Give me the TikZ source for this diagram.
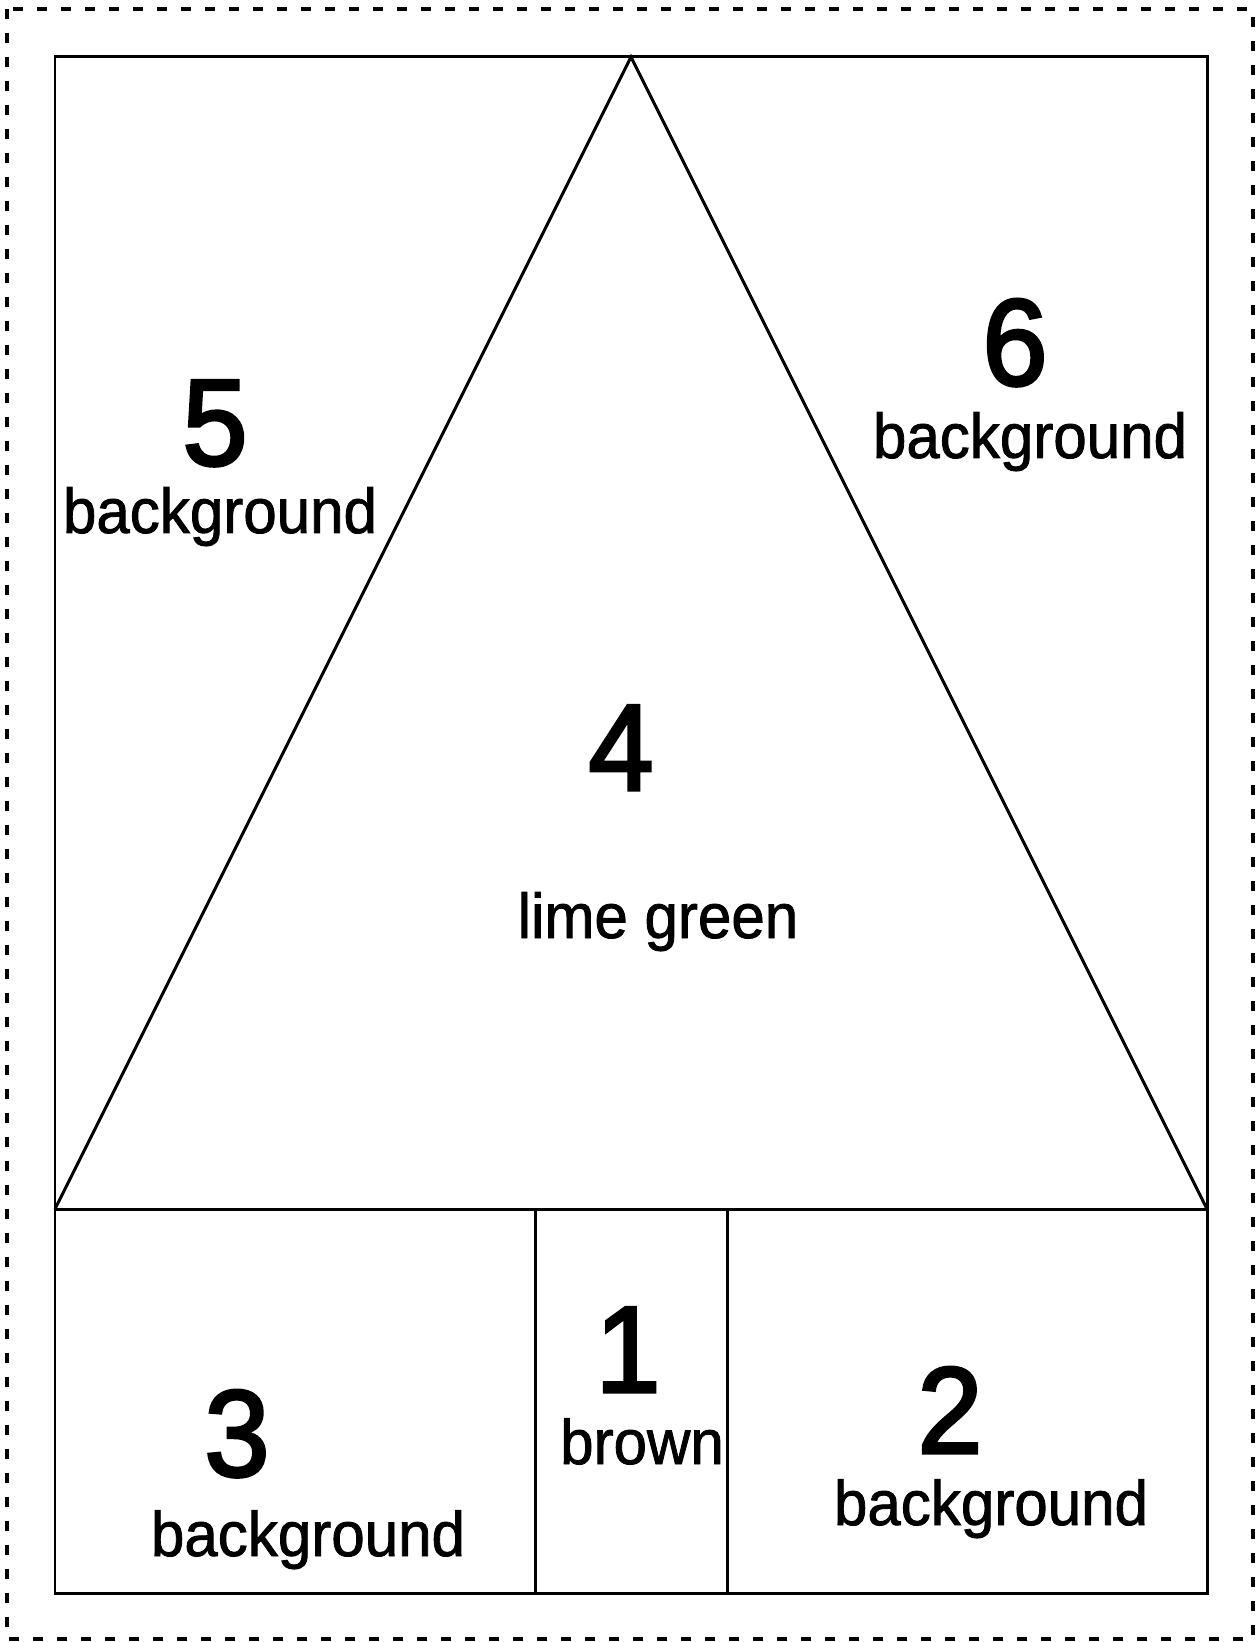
\documentclass[tikz,border=0pt]{standalone}
\usepackage{fontspec}
\setmainfont{Liberation Sans}[FakeStretch=0.95, FakeBold=1.3]
\usepackage{tikz}
\tikzset{
	num/.style={font=\fontsize{35}{40}\selectfont\addfontfeature{FakeBold=2.6}, anchor=base, inner sep=0pt, text depth=0pt},
	word/.style={font=\fontsize{18}{21}\selectfont, anchor=base, inner sep=0pt},
	edge/.style={line width=0.85pt}
}
\begin{document}
\begin{tikzpicture}[x=0.1mm, y=-0.1mm]
\useasboundingbox (0,0) rectangle (1257,1642);
\draw[line width=1pt, dash pattern=on 1mm off 1.4mm] (7,9) rectangle (1253,1639);
\coordinate (tl) at (55,57);
\coordinate (tr) at (1207,57);
\coordinate (bl) at (55,1593);
\coordinate (br) at (1207,1593);
\coordinate (apex) at (631,57);
\coordinate (ml) at (55,1209);
\coordinate (mr) at (1207,1209);
\coordinate (ta) at (535,1209);
\coordinate (tb) at (727,1209);
\coordinate (ba) at (535,1593);
\coordinate (bb) at (727,1593);
\draw[edge] (tl) rectangle (br);
\draw[edge] (ml) -- (apex) -- (mr);
\draw[edge] (ml) -- (mr);
\draw[edge] (ta) -- (ba);
\draw[edge] (tb) -- (bb);
\node[num] (n5) at (215,465) {5};
\node[word] (w5) at (220,533) {background};
\node[num] (n6) at (1015,385) {6};
\node[word] (w6) at (1030,458) {background};
\node[num] (n4) at (621,790) {4};
\node[word] (w4) at (658,938) {lime green};
\node[num] (n1) at (628,1392) {1};
\node[word] (w1) at (642,1464) {brown};
\node[num] (n3) at (237,1476) {3};
\node[word] (w3) at (308,1556) {background};
\node[num] (n2) at (950,1453) {2};
\node[word] (w2) at (991,1525) {background};
\end{tikzpicture}
\end{document}
